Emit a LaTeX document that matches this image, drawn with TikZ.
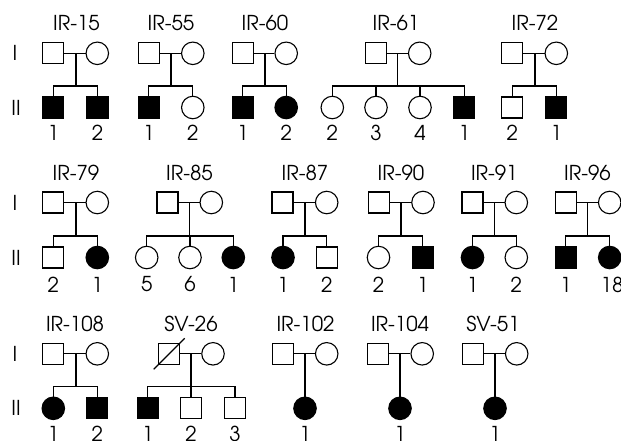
\documentclass[tikz,border=0pt]{standalone}
\usepackage{fontspec}
\setmainfont{texgyreadventor-regular.otf}
\begin{document}
\begin{tikzpicture}[x=1pt,y=-1pt,line width=1.1pt,
  every node/.style={font=\fontsize{20.5}{22}\selectfont},
  msq/.style={draw,fill=white,rectangle,minimum size=21pt,inner sep=0pt},
  fci/.style={draw,fill=white,circle,minimum size=22.5pt,inner sep=0pt},
  aff/.style={fill=black},
  ttl/.style={inner sep=0pt},
  num/.style={inner sep=0pt},
  gen/.style={inner sep=0pt}]
\useasboundingbox (0,0) rectangle (621,440);
% ---------- generation labels ----------
\foreach \r/\p/\c in {1/53.3/107.5, 2/202.5/257.5, 3/353.8/408.3}{
  \node[gen] (gI-\r) at (15,\p) {I};
  \node[gen] (gII-\r) at (16,\c) {II};
}
% ================= ROW 1 =================
% IR-15
\node[ttl] (t15) at (76.5,22.8) {IR-15};
\node[msq] (a-f) at (53.3,53.3) {};
\node[fci] (a-m) at (97.3,53.3) {};
\draw (a-f) -- (a-m);
\coordinate (a-d) at (76,53.3); \coordinate (a-s) at (76,86);
\draw (a-d) -- (a-s);
\node[msq,aff] (a-c1) at (53.3,107.5) {};
\node[msq,aff] (a-c2) at (97.5,107.5) {};
\draw (a-c1.north) |- (a-s) -| (a-c2.north);
\node[num] (a-n1) at (53.3,132.5) {1};
\node[num] (a-n2) at (97.5,132.5) {2};
% IR-55
\node[ttl] (t55) at (171,22.8) {IR-55};
\node[msq] (b-f) at (148.8,53.3) {};
\node[fci] (b-m) at (192.8,53.3) {};
\draw (b-f) -- (b-m);
\coordinate (b-d) at (171,53.3); \coordinate (b-s) at (171,86);
\draw (b-d) -- (b-s);
\node[msq,aff] (b-c1) at (148.8,107.5) {};
\node[fci] (b-c2) at (192.8,107.5) {};
\draw (b-c1.north) |- (b-s) -| (b-c2.north);
\node[num] (b-n1) at (148.8,132.5) {1};
\node[num] (b-n2) at (192.8,132.5) {2};
% IR-60
\node[ttl] (t60) at (265,22.8) {IR-60};
\node[msq] (c-f) at (242.8,53.3) {};
\node[fci] (c-m) at (286.2,53.3) {};
\draw (c-f) -- (c-m);
\coordinate (c-d) at (265,53.3); \coordinate (c-s) at (265,86);
\draw (c-d) -- (c-s);
\node[msq,aff] (c-c1) at (242.8,107.5) {};
\node[fci,aff] (c-c2) at (286.2,107.5) {};
\draw (c-c1.north) |- (c-s) -| (c-c2.north);
\node[num] (c-n1) at (242.8,132.5) {1};
\node[num] (c-n2) at (286.2,132.5) {2};
% IR-61
\node[ttl] (t61) at (396,22.8) {IR-61};
\node[msq] (d-f) at (375.8,53.3) {};
\node[fci] (d-m) at (419.7,53.3) {};
\draw (d-f) -- (d-m);
\coordinate (d-d) at (397.7,53.3); \coordinate (d-s) at (397.7,86);
\draw (d-d) -- (d-s);
\node[fci] (d-c1) at (332.3,107.5) {};
\node[fci] (d-c2) at (376,107.5) {};
\node[fci] (d-c3) at (420,107.5) {};
\node[msq,aff] (d-c4) at (464.3,107.5) {};
\draw (d-c1.north) |- (d-s) -| (d-c4.north);
\draw (d-c2.north) -- (d-c2.north |- d-s);
\draw (d-c3.north) -- (d-c3.north |- d-s);
\node[num] (d-n1) at (332.3,132.5) {2};
\node[num] (d-n2) at (376,132.5) {3};
\node[num] (d-n3) at (420,132.5) {4};
\node[num] (d-n4) at (464.3,132.5) {1};
% IR-72
\node[ttl] (t72) at (535,22.8) {IR-72};
\node[msq] (e-f) at (512.2,53.3) {};
\node[fci] (e-m) at (556.3,53.3) {};
\draw (e-f) -- (e-m);
\coordinate (e-d) at (535,53.3); \coordinate (e-s) at (535,86);
\draw (e-d) -- (e-s);
\node[msq] (e-c1) at (512.2,107.5) {};
\node[msq,aff] (e-c2) at (556.3,107.5) {};
\draw (e-c1.north) |- (e-s) -| (e-c2.north);
\node[num] (e-n1) at (512.2,132.5) {2};
\node[num] (e-n2) at (556.3,132.5) {1};
% ================= ROW 2 =================
% IR-79
\node[ttl] (t79) at (76,173) {IR-79};
\node[msq] (g-f) at (53.3,202.5) {};
\node[fci] (g-m) at (97.3,202.5) {};
\draw (g-f) -- (g-m);
\coordinate (g-d) at (76,202.5); \coordinate (g-s) at (76,236);
\draw (g-d) -- (g-s);
\node[msq] (g-c1) at (53.3,257.5) {};
\node[fci,aff] (g-c2) at (97.3,257.5) {};
\draw (g-c1.north) |- (g-s) -| (g-c2.north);
\node[num] (g-n1) at (53.3,284.5) {2};
\node[num] (g-n2) at (97.3,284.5) {1};
% IR-85
\node[ttl] (t85) at (189.5,173) {IR-85};
\node[msq] (h-f) at (167.5,202.5) {};
\node[fci] (h-m) at (211.3,202.5) {};
\draw (h-f) -- (h-m);
\coordinate (h-d) at (189.3,202.5); \coordinate (h-s) at (189.3,236);
\draw (h-d) -- (h-s);
\node[fci] (h-c1) at (146.7,257.5) {};
\node[fci] (h-c2) at (190,257.5) {};
\node[fci,aff] (h-c3) at (233.3,257.5) {};
\draw (h-c1.north) |- (h-s) -| (h-c3.north);
\draw (h-c2.north) -- (h-c2.north |- h-s);
\node[num] (h-n1) at (146.7,284.5) {5};
\node[num] (h-n2) at (190,284.5) {6};
\node[num] (h-n3) at (233.3,284.5) {1};
% IR-87
\node[ttl] (t87) at (305,173) {IR-87};
\node[msq] (i-f) at (282.5,202.5) {};
\node[fci] (i-m) at (326.7,202.5) {};
\draw (i-f) -- (i-m);
\coordinate (i-d) at (305,202.5); \coordinate (i-s) at (305,236);
\draw (i-d) -- (i-s);
\node[fci,aff] (i-c1) at (283,257.5) {};
\node[msq] (i-c2) at (326.7,257.5) {};
\draw (i-c1.north) |- (i-s) -| (i-c2.north);
\node[num] (i-n1) at (283,284.5) {1};
\node[num] (i-n2) at (326.7,284.5) {2};
% IR-90
\node[ttl] (t90) at (401,173) {IR-90};
\node[msq] (j-f) at (378.8,202.5) {};
\node[fci] (j-m) at (423,202.5) {};
\draw (j-f) -- (j-m);
\coordinate (j-d) at (401,202.5); \coordinate (j-s) at (401,236);
\draw (j-d) -- (j-s);
\node[fci] (j-c1) at (378.5,257.5) {};
\node[msq,aff] (j-c2) at (422.8,257.5) {};
\draw (j-c1.north) |- (j-s) -| (j-c2.north);
\node[num] (j-n1) at (378.5,284.5) {2};
\node[num] (j-n2) at (422.8,284.5) {1};
% IR-91
\node[ttl] (t91) at (494.3,173) {IR-91};
\node[msq] (k-f) at (472.5,202.5) {};
\node[fci] (k-m) at (516.3,202.5) {};
\draw (k-f) -- (k-m);
\coordinate (k-d) at (494.3,202.5); \coordinate (k-s) at (494.3,236);
\draw (k-d) -- (k-s);
\node[fci,aff] (k-c1) at (472.5,257.5) {};
\node[fci] (k-c2) at (516.3,257.5) {};
\draw (k-c1.north) |- (k-s) -| (k-c2.north);
\node[num] (k-n1) at (472.5,284.5) {1};
\node[num] (k-n2) at (516.3,284.5) {2};
% IR-96
\node[ttl] (t96) at (587.5,173) {IR-96};
\node[msq] (l-f) at (565.8,202.5) {};
\node[fci] (l-m) at (609.7,202.5) {};
\draw (l-f) -- (l-m);
\coordinate (l-d) at (587.3,202.5); \coordinate (l-s) at (587.3,236);
\draw (l-d) -- (l-s);
\node[msq,aff] (l-c1) at (565.8,257.5) {};
\node[fci,aff] (l-c2) at (609.7,257.5) {};
\draw (l-c1.north) |- (l-s) -| (l-c2.north);
\node[num] (l-n1) at (565.8,284.5) {1};
\node[num] (l-n2) at (612,284.5) {18};
% ================= ROW 3 =================
% IR-108
\node[ttl] (t108) at (75,323.5) {IR-108};
\node[msq] (n-f) at (53.3,353.8) {};
\node[fci] (n-m) at (97.3,353.8) {};
\draw (n-f) -- (n-m);
\coordinate (n-d) at (76,353.8); \coordinate (n-s) at (76,386.7);
\draw (n-d) -- (n-s);
\node[fci,aff] (n-c1) at (53.3,408.3) {};
\node[msq,aff] (n-c2) at (97.3,408.3) {};
\draw (n-c1.north) |- (n-s) -| (n-c2.north);
\node[num] (n-n1) at (53.3,433.5) {1};
\node[num] (n-n2) at (97.3,433.5) {2};
% SV-26
\node[ttl] (t26) at (191,323.5) {SV-26};
\node[msq] (o-f) at (169.2,353.8) {};
\node[fci] (o-m) at (213,353.8) {};
\draw (o-f) -- (o-m);
\draw ([shift={(-15.5,15.5)}]o-f.center) -- ([shift={(15.5,-15.5)}]o-f.center);
\coordinate (o-d) at (191,353.8); \coordinate (o-s) at (191,386.7);
\draw (o-d) -- (o-s);
\node[msq,aff] (o-c1) at (147.7,408.3) {};
\node[msq] (o-c2) at (191,408.3) {};
\node[msq] (o-c3) at (235,408.3) {};
\draw (o-c1.north) |- (o-s) -| (o-c3.north);
\draw (o-c2.north) -- (o-c2.north |- o-s);
\node[num] (o-n1) at (147.7,433.5) {1};
\node[num] (o-n2) at (191,433.5) {2};
\node[num] (o-n3) at (235,433.5) {3};
% IR-102
\node[ttl] (t102) at (305.5,323.5) {IR-102};
\node[msq] (p-f) at (283.3,353.8) {};
\node[fci] (p-m) at (326.7,353.8) {};
\draw (p-f) -- (p-m);
\coordinate (p-d) at (305,353.8);
\node[fci,aff] (p-c1) at (305,408.3) {};
\draw (p-d) -- (p-c1);
\node[num] (p-n1) at (305,433.5) {1};
% IR-104
\node[ttl] (t104) at (400,323.5) {IR-104};
\node[msq] (q-f) at (378,353.8) {};
\node[fci] (q-m) at (422.2,353.8) {};
\draw (q-f) -- (q-m);
\coordinate (q-d) at (400,353.8);
\node[fci,aff] (q-c1) at (400,408.3) {};
\draw (q-d) -- (q-c1);
\node[num] (q-n1) at (400,433.5) {1};
% SV-51
\node[ttl] (t51) at (493,323.5) {SV-51};
\node[msq] (r-f) at (472.8,353.8) {};
\node[fci] (r-m) at (516.7,353.8) {};
\draw (r-f) -- (r-m);
\coordinate (r-d) at (495,353.8);
\node[fci,aff] (r-c1) at (495,408.3) {};
\draw (r-d) -- (r-c1);
\node[num] (r-n1) at (495,433.5) {1};
\end{tikzpicture}
\end{document}
